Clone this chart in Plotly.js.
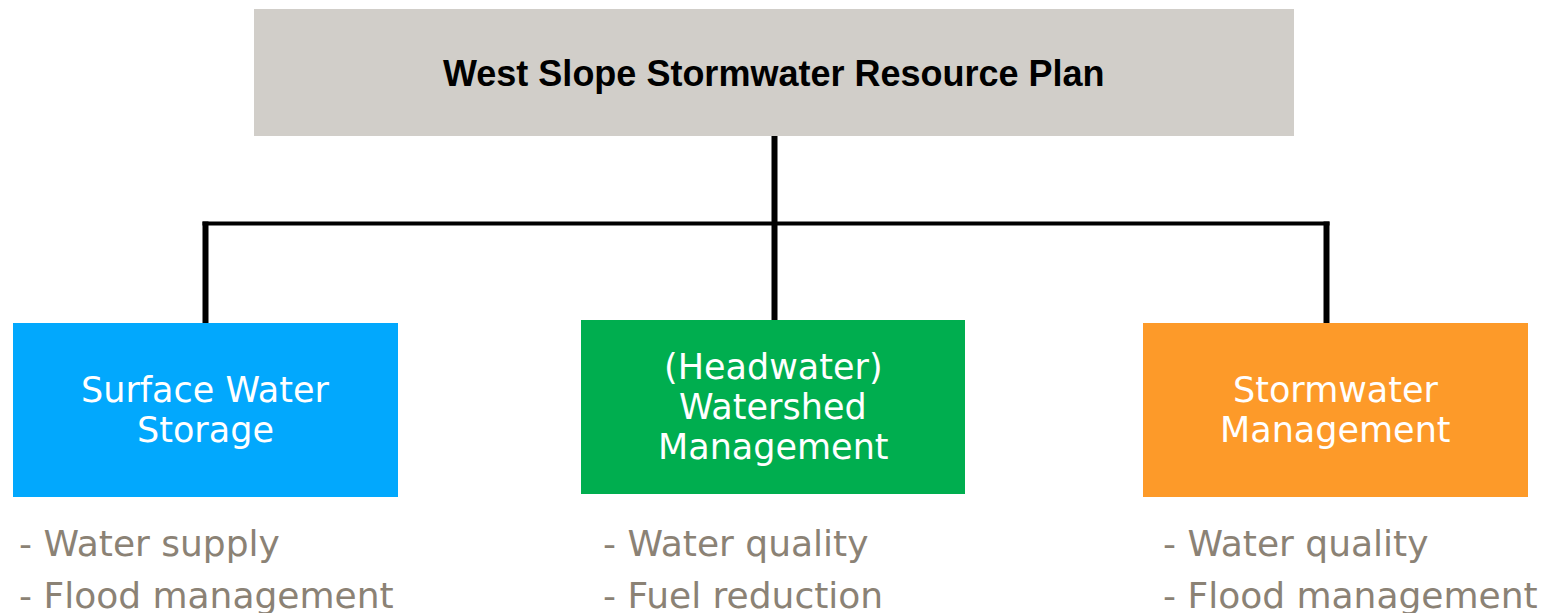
<!DOCTYPE html>
<html>
<head>
<meta charset="utf-8">
<script src="https://cdn.plot.ly/plotly-3.0.1.min.js"></script>
<style>html,body{margin:0;padding:0;background:#fff;}#chart{width:1566px;height:613px;}</style>
</head>
<body>
<div id="chart"></div>
<script>
// ---- data ----
const rootLabel = "West Slope Stormwater Resource Plan";
const childLabels = [["Surface Water", "Storage"], ["(Headwater)", "Watershed", "Management"], ["Stormwater", "Management"]];
const childBullets = [
  ["- Water supply", "- Flood management"],
  ["- Water quality", "- Fuel reduction"],
  ["- Water quality", "- Flood management"]
];

// ---- layout config (positions / styles) ----
const W = 1566, H = 613;
const root = {x0: 254, x1: 1294, y0: 9, y1: 136, color: "#d1cec9"};
const boxes = [
  {x0: 13, x1: 398, y0: 323, y1: 497, color: "#02a8fd", bx: 17},
  {x0: 581, x1: 965, y0: 320, y1: 494, color: "#00ae4f", bx: 601},
  {x0: 1143, x1: 1528, y0: 323, y1: 497, color: "#fd9a29", bx: 1161}
];
const connY = 223.5;
const bulletY = [543, 595];
const labelGap = 40;
const lineCol = "#000000";

const shapes = [];
const annotations = [];

// root box
shapes.push({type: "rect", xref: "x", yref: "y", x0: root.x0, x1: root.x1, y0: root.y0, y1: root.y1,
  fillcolor: root.color, line: {width: 0}, layer: "below"});
annotations.push({xref: "x", yref: "y", x: (root.x0 + root.x1) / 2, y: (root.y0 + root.y1) / 2 + 1,
  text: "<b>" + rootLabel + "</b>", showarrow: false, xanchor: "center", yanchor: "middle",
  font: {family: "Liberation Sans, Arial, sans-serif", size: 36, color: "#000"}});

// connectors
const rootCx = (root.x0 + root.x1) / 2 + 0.5;
shapes.push({type: "line", xref: "x", yref: "y", x0: rootCx, x1: rootCx, y0: root.y1, y1: boxes[1].y0,
  line: {color: lineCol, width: 6}});
const leftCx = (boxes[0].x0 + boxes[0].x1) / 2;
const rightCx = (boxes[2].x0 + boxes[2].x1) / 2 - 9;
shapes.push({type: "line", xref: "x", yref: "y", x0: leftCx - 3, x1: rightCx + 3, y0: connY, y1: connY,
  line: {color: lineCol, width: 4}});
shapes.push({type: "line", xref: "x", yref: "y", x0: leftCx, x1: leftCx, y0: connY - 2, y1: boxes[0].y0,
  line: {color: lineCol, width: 6}});
shapes.push({type: "line", xref: "x", yref: "y", x0: rightCx, x1: rightCx, y0: connY - 2, y1: boxes[2].y0,
  line: {color: lineCol, width: 6}});

// child boxes
boxes.forEach((b, i) => {
  shapes.push({type: "rect", xref: "x", yref: "y", x0: b.x0, x1: b.x1, y0: b.y0, y1: b.y1,
    fillcolor: b.color, line: {width: 0}});
  const lines = childLabels[i];
  const cy = (b.y0 + b.y1) / 2;
  lines.forEach((t, k) => {
    annotations.push({xref: "x", yref: "y", x: (b.x0 + b.x1) / 2,
      y: cy + (k - (lines.length - 1) / 2) * labelGap,
      text: t, showarrow: false, xanchor: "center", yanchor: "middle",
      font: {family: "DejaVu Sans, sans-serif", size: 35, color: "#ffffff"}});
  });
  childBullets[i].forEach((t, j) => {
    annotations.push({xref: "x", yref: "y", x: b.bx, y: bulletY[j], text: t, showarrow: false,
      xanchor: "left", yanchor: "middle",
      font: {family: "DejaVu Sans, sans-serif", size: 36, color: "#8b8275"}});
  });
});

const layout = {
  width: W, height: H,
  margin: {l: 0, r: 0, t: 0, b: 0},
  paper_bgcolor: "#ffffff", plot_bgcolor: "#ffffff",
  xaxis: {range: [0, W], visible: false, fixedrange: true},
  yaxis: {range: [H, 0], visible: false, fixedrange: true},
  showlegend: false,
  shapes: shapes,
  annotations: annotations
};

Plotly.newPlot("chart", [{x: [], y: [], type: "scatter", mode: "markers", hoverinfo: "skip"}], layout,
  {displayModeBar: false, staticPlot: true});
</script>
</body>
</html>
